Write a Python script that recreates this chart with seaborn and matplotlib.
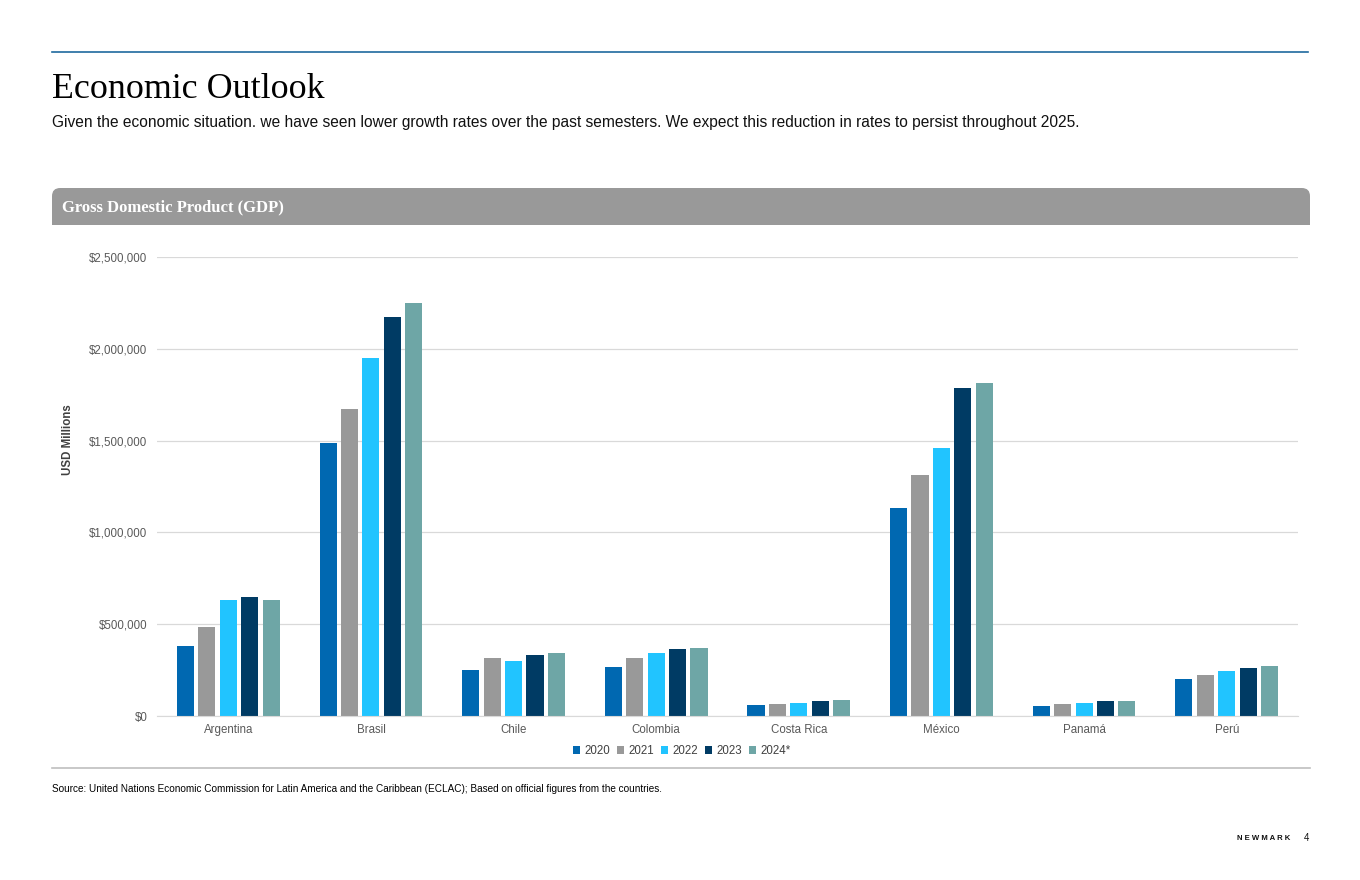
import matplotlib
matplotlib.use("Agg")
import matplotlib.pyplot as plt
from matplotlib.patches import FancyBboxPatch, Rectangle
from matplotlib.ticker import FuncFormatter
import pandas as pd
import seaborn as sns

# --- Data (USD millions) ---
countries = ["Argentina", "Brasil", "Chile", "Colombia", "Costa Rica", "México", "Panamá", "Perú"]
years = ["2020", "2021", "2022", "2023", "2024*"]
gdp_2020 = [383000, 1487000, 251000, 267000, 60000, 1133000, 54000, 202000]
gdp_2021 = [487000, 1672000, 316000, 316000, 65000, 1313000, 65000, 223000]
gdp_2022 = [631000, 1950000, 300000, 343000, 71000, 1460000, 71000, 245000]
gdp_2023 = [646000, 2173000, 332000, 365000, 82000, 1786000, 82000, 261000]
gdp_2024 = [633000, 2249000, 343000, 370000, 87000, 1814000, 82000, 272000]
colors = ["#0068B1", "#999999", "#21C4FF", "#003B64", "#6EA6A6"]

series = [gdp_2020, gdp_2021, gdp_2022, gdp_2023, gdp_2024]
rows = []
for year, vals in zip(years, series):
    for c, v in zip(countries, vals):
        rows.append({"country": c, "year": year, "gdp": v})
df = pd.DataFrame(rows)

plt.rcParams["font.family"] = ["Liberation Sans", "DejaVu Sans"]

W, H = 1360, 880
fig = plt.figure(figsize=(W / 100, H / 100), dpi=100)

def fx(px):
    return px / W

def fy(py):
    return 1 - py / H

# --- Page header ---
fig.add_artist(plt.Line2D([fx(52), fx(1308)], [fy(52), fy(52)], color="#1F6A9E", lw=1.2))
fig.text(fx(52), fy(90), "Economic Outlook", family="Liberation Serif", fontsize=25.8,
         color="black", va="center", ha="left")
fig.text(fx(52), fy(123), "Given the economic situation. we have seen lower growth rates over the past "
         "semesters. We expect this reduction in rates to persist throughout 2025.",
         family="Liberation Sans", fontsize=11.2, color="#111111", va="center", ha="left")

# --- Grey banner with rounded top ---
banner = FancyBboxPatch((fx(52), fy(225)), fx(1310) - fx(52), fy(188) - fy(225),
                        boxstyle="round,pad=0,rounding_size=0.006", transform=fig.transFigure,
                        facecolor="#999999", edgecolor="none", mutation_aspect=W / H)
fig.add_artist(banner)
fig.add_artist(Rectangle((fx(52), fy(225)), fx(1310) - fx(52), fy(205) - fy(225),
                         transform=fig.transFigure, facecolor="#999999", edgecolor="none"))
fig.text(fx(62), fy(207), "Gross Domestic Product (GDP)", family="Liberation Serif",
         fontsize=12, weight="bold", color="white", va="center", ha="left")

# --- Chart ---
ax = fig.add_axes([fx(157), fy(716), fx(1298) - fx(157), fy(257) - fy(716)])
sns.barplot(data=df, x="country", y="gdp", hue="year", palette=colors, ax=ax,
            width=0.75, gap=0.2, saturation=1, errorbar=None)

ax.set_ylim(0, 2500000)
ax.set_yticks([0, 500000, 1000000, 1500000, 2000000, 2500000])
ax.yaxis.set_major_formatter(FuncFormatter(lambda v, p: f"${v:,.0f}"))
ax.grid(axis="y", color="#D9D9D9", lw=0.9)
ax.set_axisbelow(True)
for s in ["top", "right", "left"]:
    ax.spines[s].set_visible(False)
ax.spines["bottom"].set_color("#D9D9D9")
ax.tick_params(axis="both", length=0, labelsize=8.3, labelcolor="#595959")
ax.tick_params(axis="x", pad=6)
ax.tick_params(axis="y", pad=7)
ax.set_xlabel("")
ax.set_ylabel("")
fig.text(fx(68), fy(440), "USD Millions", rotation=90, family="Liberation Sans",
         fontsize=8.3, weight="bold", color="#404040", va="center", ha="center")

handles, labels = ax.get_legend_handles_labels()
ax.get_legend().remove()
fig.legend(handles, labels, loc="center", bbox_to_anchor=(fx(682), fy(751)), ncol=5,
           frameon=False, fontsize=8.3, handlelength=0.6, handleheight=0.6,
           handletextpad=0.4, columnspacing=0.6, labelcolor="#404040")

# --- Footer ---
fig.add_artist(plt.Line2D([fx(52), fx(1310)], [fy(768), fy(768)], color="#BFBFBF", lw=1.2))
fig.text(fx(52), fy(789), "Source: United Nations Economic Commission for Latin America and the "
         "Caribbean (ECLAC); Based on official figures from the countries.",
         family="Liberation Sans", fontsize=7.2, color="black", va="center", ha="left")
fig.text(fx(1290), fy(838), "N E W M A R K", family="Liberation Sans", fontsize=5.6,
         weight="bold", color="#111111", va="center", ha="right")
fig.text(fx(1309), fy(838), "4", family="Liberation Sans", fontsize=7,
         color="#111111", va="center", ha="right")

fig.savefig("out.png", dpi=100)
